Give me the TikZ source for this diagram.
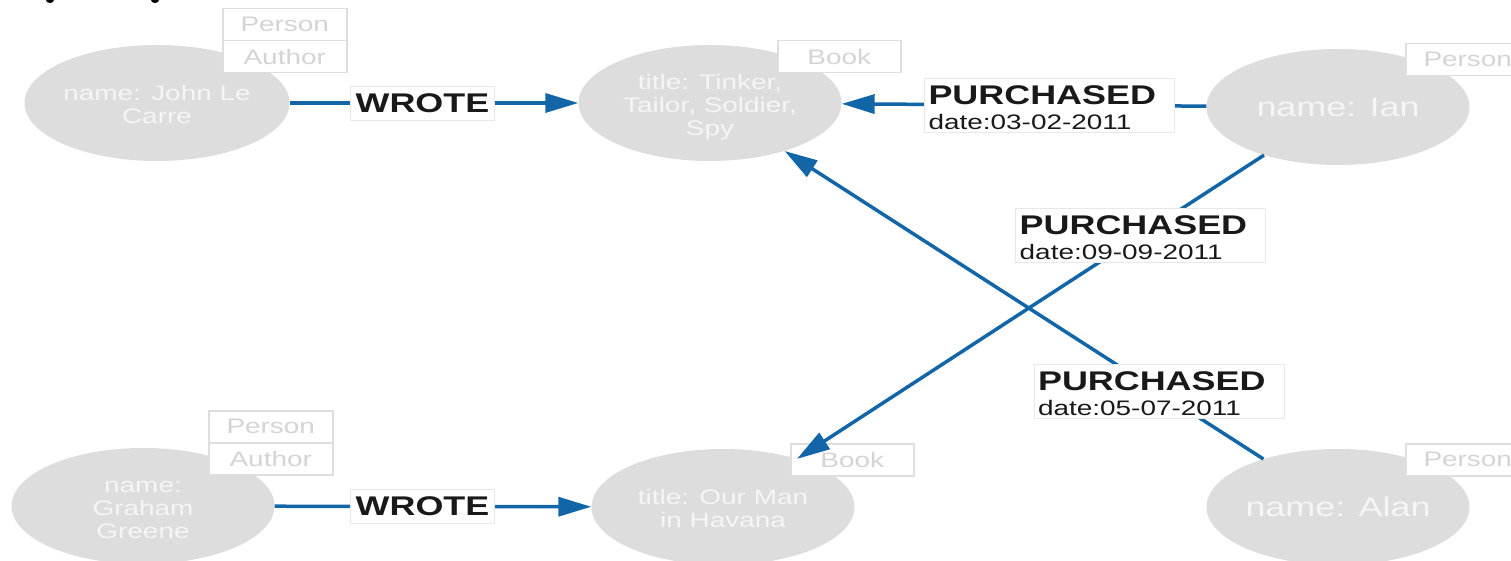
\documentclass[tikz,border=0pt]{standalone}
\usepackage{fontspec}
\setmainfont{Liberation Sans}
\usepackage{graphicx}
\usetikzlibrary{shapes.geometric,arrows.meta}

\definecolor{nodegray}{RGB}{221,221,221}
\definecolor{nodetext}{RGB}{245,245,245}
\definecolor{tagline}{RGB}{222,222,222}
\definecolor{tagtext}{RGB}{212,212,212}
\definecolor{relblue}{RGB}{18,102,168}
\definecolor{lblline}{RGB}{232,232,232}

% horizontally widened text
\newcommand{\wide}[1]{\scalebox{1.33}[1]{#1}}
% centred lines inside an entity, set a little below the middle
\newcommand{\lines}[1]{\raisebox{0pt}[\dimexpr\height+9pt\relax][\depth]{\wide{\begin{tabular}{@{}c@{}}#1\end{tabular}}}}
% two-line relationship label in a fixed 250 x 54 box
\newcommand{\purchased}[1]{\raisebox{0pt}[26pt][28pt]{\makebox[250pt][l]{\hspace{4pt}\wide{\fontsize{21}{25}\selectfont\begin{tabular}[t]{@{}l@{}}{\fontsize{27}{25}\selectfont\bfseries PURCHASED}\\date:#1\end{tabular}}}}}

\tikzset{
  entity/.style={ellipse, fill=nodegray, minimum width=263, minimum height=116,
    inner sep=0, text=nodetext, font=\fontsize{21}{23}\selectfont},
  bigname/.style={font=\fontsize{27}{30}\selectfont},
  tag/.style={draw=tagline, line width=1.5, fill=white, text=tagtext,
    minimum width=124, minimum height=32, inner sep=0, anchor=north west,
    font=\fontsize{21}{23}\selectfont},
  rel/.style={draw=relblue, line width=3.5, -{Triangle[length=33,width=19]}},
  wrote/.style={fill=white, draw=lblline, line width=0.8, inner sep=5,
    minimum height=34, text=black!90, font=\fontsize{27}{30}\selectfont\bfseries},
  purch/.style={fill=white, draw=lblline, line width=0.8, inner sep=0, text=black!90}
}

\begin{document}
\begin{tikzpicture}[x=1pt, y=-1pt]
  \useasboundingbox (0,0) rectangle (1511,561);
  \clip (0,0) rectangle (1511,561);

  % fragments of lettering above the frame
  \fill[black] (50,0) ellipse (4 and 3);
  \fill[black] (155,0) ellipse (4 and 3);

  % entities
  \node[entity] (john)   at (157,103) {\lines{name: John Le\\Carre}};
  \node[entity] (tinker) at (710,103) {\lines{title: Tinker,\\Tailor, Soldier,\\Spy}};
  \node[entity, bigname] (ian) at (1338,107) {\wide{name: Ian}};
  \node[entity] (graham) at (143,506) {\lines{name:\\Graham\\Greene}};
  \node[entity] (havana) at (723,507) {\lines{title: Our Man\\in Havana}};
  \node[entity, bigname] (alan) at (1338,507) {\wide{name: Alan}};

  % labels of the entities
  \node[tag] (johnP)   at (222,8)   {\wide{Person}};
  \node[tag] (johnA)   at (222,40)  {\wide{Author}};
  \node[tag, minimum width=123] (tinkerB) at (777,40) {\wide{Book}};
  \node[tag] (ianP)    at (1405,43) {\wide{Person}};
  \node[tag] (grahamP) at (208,410) {\wide{Person}};
  \node[tag] (grahamA) at (208,442) {\wide{Author}};
  \node[tag, minimum width=123] (havanaB) at (790,443) {\wide{Book}};
  \node[tag] (alanP)   at (1405,443) {\wide{Person}};

  % relationships
  \draw[rel] (john) -- node[wrote, pos=0.46] (w1) {\wide{WROTE}} (tinker);
  \draw[rel] (ian) -- node[purch, pos=0.43] (p1) {\purchased{03-02-2011}} (tinker);
  \draw[rel] (ian) -- node[purch, pos=0.264] (p2) {\purchased{09-09-2011}} (havana);
  \draw[rel] (alan) -- node[purch, pos=0.218] (p3) {\purchased{05-07-2011}} (tinker);
  \draw[rel] (graham) -- node[wrote, pos=0.467] (w2) {\wide{WROTE}} (havana);
\end{tikzpicture}
\end{document}
